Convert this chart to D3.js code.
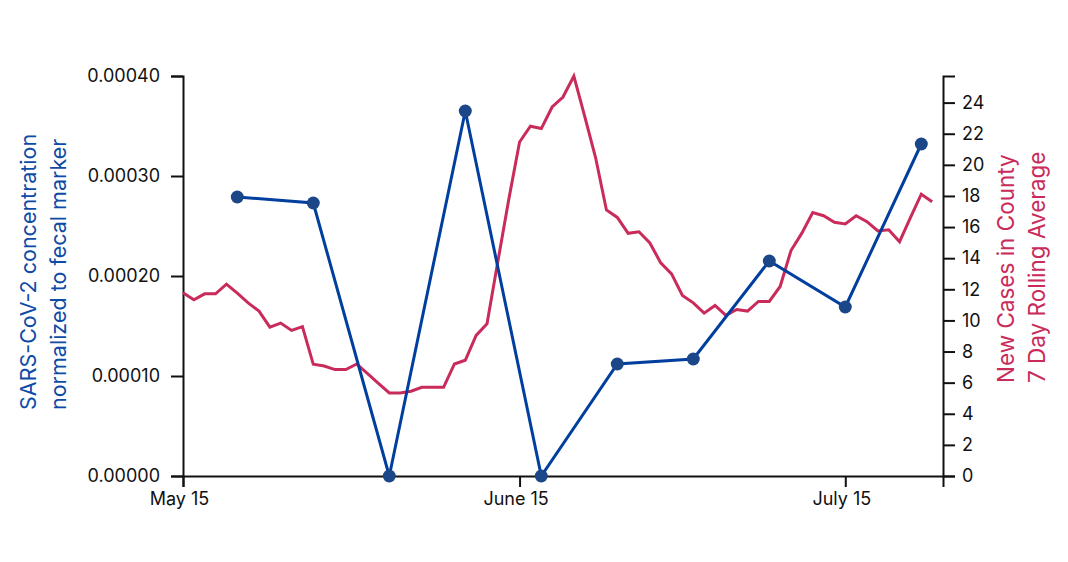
<!doctype html>
<html lang="en">
<head>
<meta charset="utf-8">
<title>SARS-CoV-2 wastewater vs new cases</title>
<script src="https://cdn.jsdelivr.net/npm/d3@7"></script>
<style>
  body { margin: 0; background: #fff; }
  svg text { font-family: Inter, "Noto Sans", sans-serif; }
  .axis path, .axis line { stroke: #111; stroke-width: 2px; }
  .axis text { fill: #111; font-size: 18px; }
</style>
</head>
<body>
<svg id="chart" width="1068" height="562"></svg>
<script>
// wastewater samples (weekly)
var sampleDates = ["2020-05-20", "2020-05-27", "2020-06-03", "2020-06-10", "2020-06-17",
                   "2020-06-24", "2020-07-01", "2020-07-08", "2020-07-15", "2020-07-22"];
var concentration = [0.000279, 0.000273, 0, 0.000365, 0,
                     0.000112, 0.000117, 0.000215, 0.000169, 0.000332];

// county new cases, 7 day rolling average, daily from May 15
var casesStart = "2020-05-15";
var rollingAvg = [
  11.78, 11.33, 11.71, 11.71, 12.33, 11.75, 11.13, 10.60, 9.57, 9.83,
  9.36, 9.60, 7.18, 7.07, 6.84, 6.84, 7.20, 6.58, 5.96, 5.34,
  5.34, 5.45, 5.70, 5.70, 5.70, 7.20, 7.44, 9.04, 9.79, 13.78,
  17.76, 21.47, 22.48, 22.33, 23.72, 24.36, 25.71, 23.12, 20.47, 17.10,
  16.62, 15.60, 15.70, 14.98, 13.70, 12.99, 11.60, 11.13, 10.47, 10.96,
  10.32, 10.70, 10.60, 11.22, 11.22, 12.18, 14.49, 15.61, 16.94, 16.73,
  16.31, 16.20, 16.73, 16.35, 15.75, 15.83, 15.06, 16.60, 18.11, 17.63
];

var xTickDates = ["2020-05-15", "2020-06-15", "2020-07-15"];
var xTickLabels = ["May 15", "June 15", "July 15"];
var leftTicks = [0, 0.0001, 0.0002, 0.0003, 0.0004];
var rightTicks = [0, 2, 4, 6, 8, 10, 12, 14, 16, 18, 20, 22, 24];

var parse = d3.timeParse("%Y-%m-%d");

var svg = d3.select("#chart"),
    margin = { top: 76, right: 125, bottom: 86, left: 183 },
    width = +svg.attr("width") - margin.left - margin.right,
    height = +svg.attr("height") - margin.top - margin.bottom,
    g = svg.append("g").attr("transform", "translate(" + margin.left + "," + margin.top + ")");

var samples = sampleDates.map(function(d, i) { return { date: parse(d), value: concentration[i] }; });
var cases = rollingAvg.map(function(v, i) { return { date: d3.timeDay.offset(parse(casesStart), i), value: v }; });

var x = d3.scaleTime()
    .domain([parse("2020-05-15"), parse("2020-07-24")])
    .range([0, width]);

var yLeft = d3.scaleLinear().domain([0, 0.0004]).range([height, 0]);
var yRight = d3.scaleLinear().domain([0, d3.max(rollingAvg)]).range([height, 0]);

// axes
g.append("g")
    .attr("class", "axis")
    .attr("transform", "translate(0," + height + ")")
    .call(d3.axisBottom(x)
      .tickValues(xTickDates.map(parse))
      .tickFormat(function(d, i) { return xTickLabels[i]; })
      .tickSize(11).tickSizeOuter(11).tickPadding(5))
    .selectAll("text").attr("dx", -4);

g.append("g")
    .attr("class", "axis")
    .call(d3.axisLeft(yLeft)
      .tickValues(leftTicks)
      .tickFormat(d3.format(".5f"))
      .tickSize(12).tickSizeOuter(12).tickPadding(11));

g.append("g")
    .attr("class", "axis")
    .attr("transform", "translate(" + width + ",0)")
    .call(d3.axisRight(yRight)
      .tickValues(rightTicks)
      .tickFormat(d3.format("d"))
      .tickSize(12).tickSizeOuter(12).tickPadding(7));

// cases line
g.append("path")
    .datum(cases)
    .attr("fill", "none")
    .attr("stroke", "#c92b5b")
    .attr("stroke-width", 3)
    .attr("d", d3.line()
      .x(function(d) { return x(d.date); })
      .y(function(d) { return yRight(d.value); }));

// concentration line + dots
g.append("path")
    .datum(samples)
    .attr("fill", "none")
    .attr("stroke", "#003f9e")
    .attr("stroke-width", 3)
    .attr("d", d3.line()
      .x(function(d) { return x(d.date); })
      .y(function(d) { return yLeft(d.value); }));

g.selectAll(".dot")
    .data(samples)
    .enter().append("circle")
      .attr("class", "dot")
      .attr("cx", function(d) { return x(d.date); })
      .attr("cy", function(d) { return yLeft(d.value); })
      .attr("r", 6.5)
      .attr("fill", "#1b4687");

// axis titles
var leftTitle = svg.append("text")
    .attr("transform", "translate(36,410) rotate(-90)")
    .attr("fill", "#0e4ba6")
    .attr("font-size", 21.5)
    .attr("text-anchor", "start");
leftTitle.append("tspan").attr("x", 0).attr("y", 0).text("SARS-CoV-2 concentration");
leftTitle.append("tspan").attr("x", 0).attr("y", 30).text("normalized to fecal marker");

var rightTitle = svg.append("text")
    .attr("transform", "translate(1014,383) rotate(-90)")
    .attr("fill", "#c92b5b")
    .attr("font-size", 22.5)
    .attr("text-anchor", "start");
rightTitle.append("tspan").attr("x", 0).attr("y", 0).text("New Cases in County");
rightTitle.append("tspan").attr("x", 0).attr("y", 31).text("7 Day Rolling Average");
</script>
</body>
</html>
